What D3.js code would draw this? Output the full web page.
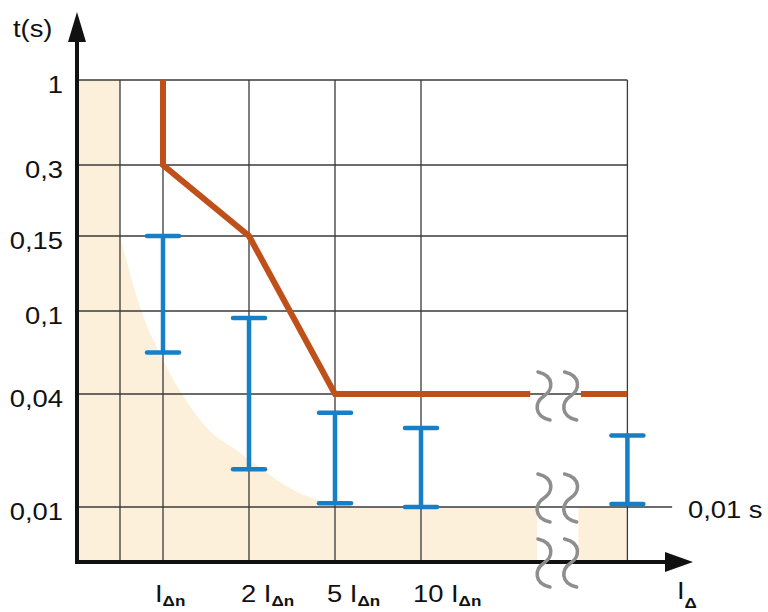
<!DOCTYPE html>
<html><head><meta charset="utf-8">
<script src="https://cdn.jsdelivr.net/npm/d3@7"></script>
<style>html,body{margin:0;padding:0;background:#fff;}</style>
</head><body>
<script>
// ---- data ----
const yTickValues = [1, 0.3, 0.15, 0.1, 0.04, 0.01];
const yTickLabels = ["1", "0,3", "0,15", "0,1", "0,04", "0,01"];
const xCategoryPos = [1, 2, 3, 4];            // column units
const xCategoryPrefix = ["", "2 ", "5 ", "10 "];
const gridColumns = [0.5, 1, 2, 3, 4, 6.4];
const tripX = [1, 1, 2, 3, 5.27];
const tripT = [1, 0.3, 0.15, 0.04, 0.04];
const tripFarX = [5.86, 6.4];
const tripFarT = [0.04, 0.04];
const barX = [1, 2, 3, 4, 6.4];
const barLow = [0.07, 0.02, 0.011, 0.01, 0.0108];
const barHigh = [0.15, 0.095, 0.035, 0.031, 0.029];
const zoneX = [0.5, 0.75, 1.02, 1.22, 1.51, 1.86, 2.21, 2.56, 3.02, 3.3];
const zoneT = [0.15, 0.1, 0.062, 0.04, 0.031, 0.025, 0.019, 0.014, 0.0108, 0.01];
const breakStart = 5.35, breakEnd = 5.83, breakMarks = [5.43, 5.74];

// ---- layout ----
const W = 768, H = 612;
const svg = d3.select("body").append("svg").attr("width", W).attr("height", H);
const x = d3.scaleLinear().domain([0, 6.4]).range([77, 627.4]);
const y = d3.scaleLinear().domain([1, 0.3, 0.15, 0.1, 0.04, 0.01, 0])
  .range([80, 165, 236, 311, 394, 507, 562]);

const beige = "#fdf0db", grid = "#3a3a3a", orange = "#c0501a", blue = "#1580c8";

// beige zones
const zonePts = [[0, 1], [0.5, 1]].concat(zoneX.map((v, i) => [v, zoneT[i]]))
  .concat([[breakStart, 0.01], [breakStart, 0], [0, 0]]);
svg.append("path")
  .attr("d", d3.line().x(d => x(d[0])).y(d => y(d[1]))(zonePts.slice(0, 2)) )
  .attr("fill", "none");
// build path with smooth curve part
const curvePath = d3.line().x(d => x(d[0])).y(d => y(d[1])).curve(d3.curveMonotoneX)(zoneX.map((v, i) => [v, zoneT[i]]));
const straight1 = `M${x(0)},${y(1)}L${x(0.5)},${y(1)}L${x(0.5)},${y(0.15)}`;
const straight2 = `L${x(breakStart)},${y(0.01)}L${x(breakStart)},${y(0)}L${x(0)},${y(0)}Z`;
svg.append("path").attr("d", straight1 + "L" + curvePath.slice(1) + straight2).attr("fill", beige);
svg.append("rect").attr("x", x(breakEnd)).attr("y", y(0.01))
  .attr("width", x(6.4) - x(breakEnd)).attr("height", y(0) - y(0.01)).attr("fill", beige);

// grid
svg.selectAll(".vg").data(gridColumns).enter().append("line")
  .attr("x1", d => x(d)).attr("x2", d => x(d)).attr("y1", y(1)).attr("y2", y(0))
  .attr("stroke", grid).attr("stroke-width", 1.3);
svg.selectAll(".hg").data(yTickValues).enter().append("line")
  .attr("x1", x(0)).attr("x2", d => d === 0.01 ? x(6.92) : x(6.4))
  .attr("y1", d => y(d)).attr("y2", d => y(d))
  .attr("stroke", grid).attr("stroke-width", 1.3);

// trip curve
const tline = d3.line().x(d => x(d[0])).y(d => y(d[1]));
svg.append("path").attr("d", tline(tripX.map((v, i) => [v, tripT[i]])))
  .attr("fill", "none").attr("stroke", orange).attr("stroke-width", 6).attr("stroke-linejoin", "miter");
svg.append("path").attr("d", tline(tripFarX.map((v, i) => [v, tripFarT[i]])))
  .attr("fill", "none").attr("stroke", orange).attr("stroke-width", 6);

// blue bars
const bars = svg.selectAll(".bar").data(barX.map((v, i) => ({ x: v, lo: barLow[i], hi: barHigh[i] })))
  .enter().append("g").attr("stroke", blue).attr("stroke-width", 4.5).attr("stroke-linecap", "round");
bars.append("line").attr("x1", d => x(d.x)).attr("x2", d => x(d.x)).attr("y1", d => y(d.hi)).attr("y2", d => y(d.lo));
bars.append("line").attr("x1", d => x(d.x) - 16).attr("x2", d => x(d.x) + 16).attr("y1", d => y(d.hi)).attr("y2", d => y(d.hi));
bars.append("line").attr("x1", d => x(d.x) - 16).attr("x2", d => x(d.x) + 16).attr("y1", d => y(d.lo)).attr("y2", d => y(d.lo));

// axes
svg.append("line").attr("x1", x(0)).attr("x2", x(0)).attr("y1", y(0) + 2).attr("y2", 40)
  .attr("stroke", "#111").attr("stroke-width", 4);
svg.append("path").attr("d", `M${x(0)},12L${x(0) + 9},42L${x(0) - 9},42Z`).attr("fill", "#111");
svg.append("line").attr("x1", x(0) - 2).attr("x2", 668).attr("y1", y(0)).attr("y2", y(0))
  .attr("stroke", "#111").attr("stroke-width", 4);
svg.append("path").attr("d", `M693,${y(0)}L665,${y(0) - 10}L665,${y(0) + 10}Z`).attr("fill", "#111");

// break marks
const tilde = (cx, cy) => `M${cx - 6},${cy - 24}C${cx + 11},${cy - 20} ${cx + 9},${cy - 6} ${cx},${cy}C${cx - 9},${cy + 6} ${cx - 11},${cy + 20} ${cx + 6},${cy + 24}`;
const breakYs = [y(0.04) + 2, y(0.01) - 9, y(0) + 1];
breakYs.forEach(by => breakMarks.forEach(bx => {
  svg.append("path").attr("d", tilde(x(bx), by)).attr("fill", "none")
    .attr("stroke", "#8e8e8e").attr("stroke-width", 3.5).attr("stroke-linecap", "round");
}));

// text
const sx = 1.14;
function addText(tx, ty, anchor, pieces) {
  const t = svg.append("text").attr("transform", `translate(${tx},${ty}) scale(${sx},1)`)
    .attr("text-anchor", anchor).attr("font-family", "Liberation Sans, Arial, sans-serif").attr("fill", "#111");
  pieces.forEach(p => t.append("tspan").attr("font-size", p.size).attr("font-weight", p.w || "normal")
    .attr("dy", p.dy || 0).text(p.t));
}
yTickValues.forEach((v, i) => addText(63, y(v) + 13, "end", [{ t: yTickLabels[i], size: 24 }]));
xCategoryPos.forEach((v, i) => addText(x(v) - 8, 602, "start",
  [{ t: xCategoryPrefix[i] + "I", size: 24 }, { t: "Δn", size: 15, w: "bold", dy: 4 }]));
addText(13, 37, "start", [{ t: "t(s)", size: 24 }]);
addText(688, 518, "start", [{ t: "0,01 s", size: 24 }]);
addText(677, 599, "start", [{ t: "I", size: 24 }, { t: "Δ", size: 15, w: "bold", dy: 9 }]);
</script>
</body></html>
